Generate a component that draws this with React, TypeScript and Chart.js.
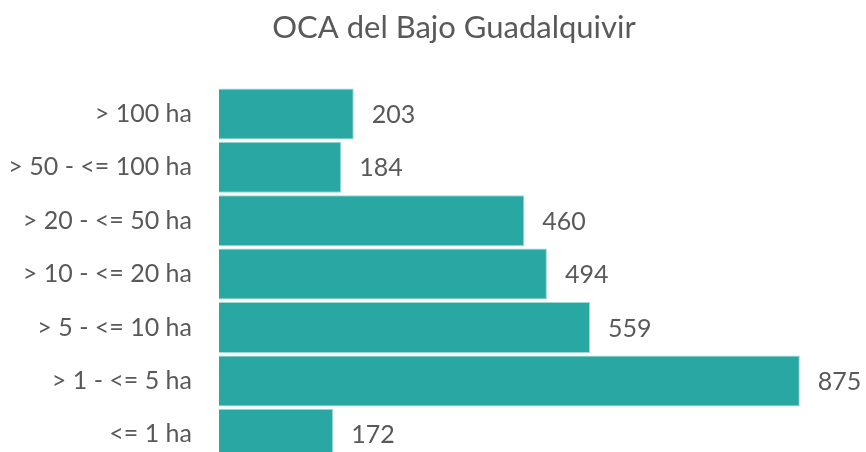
import React, { useEffect, useRef } from "react";
import { Chart, registerables } from "chart.js";

Chart.register(...registerables);

const titleText = "OCA del Bajo Guadalquivir";
const categories = [
  "> 100 ha",
  "> 50 - <= 100 ha",
  "> 20 - <= 50 ha",
  "> 10 - <= 20 ha",
  "> 5 - <= 10 ha",
  "> 1 - <= 5 ha",
  "<= 1 ha",
];
const values = [203, 184, 460, 494, 559, 875, 172];

const FONT = "Lato, 'Open Sans', sans-serif";
const TEXT = "#595959";
const BAR = "#29A8A3";

const valueLabels = {
  id: "valueLabels",
  afterDatasetsDraw(chart: any) {
    const ctx = chart.ctx;
    const meta = chart.getDatasetMeta(0);
    ctx.save();
    ctx.font = `25px ${FONT}`;
    ctx.fillStyle = TEXT;
    ctx.textAlign = "left";
    ctx.textBaseline = "middle";
    meta.data.forEach((bar: any, i: number) => {
      ctx.fillText(String(values[i]), bar.x + 18, bar.y + 1);
    });
    ctx.restore();
  },
};

export default function App() {
  const ref = useRef<HTMLCanvasElement | null>(null);
  useEffect(() => {
    if (!ref.current) return;
    const chart = new Chart(ref.current, {
      type: "bar",
      data: {
        labels: categories,
        datasets: [
          {
            data: values,
            backgroundColor: BAR,
            borderColor: "#9fd8d5",
            borderWidth: 1,
            categoryPercentage: 1,
            barPercentage: 0.955,
          },
        ],
      },
      options: {
        indexAxis: "y",
        responsive: true,
        maintainAspectRatio: false,
        animation: false,
        layout: { padding: { left: 0, right: 0, top: 0, bottom: 9 } },
        plugins: {
          legend: { display: false },
          tooltip: { enabled: false },
          title: {
            display: true,
            text: titleText,
            color: TEXT,
            font: { family: FONT, size: 31, weight: "normal" },
            padding: { top: 9, bottom: 41 },
          },
        },
        scales: {
          x: {
            display: false,
            min: 0,
            max: 1038,
          },
          y: {
            grid: { display: false, drawTicks: false, tickLength: 0 },
            border: { display: false },
            ticks: {
              color: TEXT,
              padding: 27,
              font: { family: FONT, size: 25 },
            },
            afterFit: (scale: any) => {
              scale.width = 219;
              scale.paddingTop = 0;
              scale.paddingBottom = 0;
            },
          },
        },
      },
      plugins: [valueLabels],
    } as any);
    return () => chart.destroy();
  }, []);
  return (
    <div
      style={{
        position: "fixed",
        left: 0,
        top: 0,
        width: 866,
        height: 452,
        overflow: "hidden",
        background: "#fff",
      }}
    >
      <div style={{ position: "relative", width: 908, height: 470 }}>
        <canvas ref={ref} />
      </div>
    </div>
  );
}
